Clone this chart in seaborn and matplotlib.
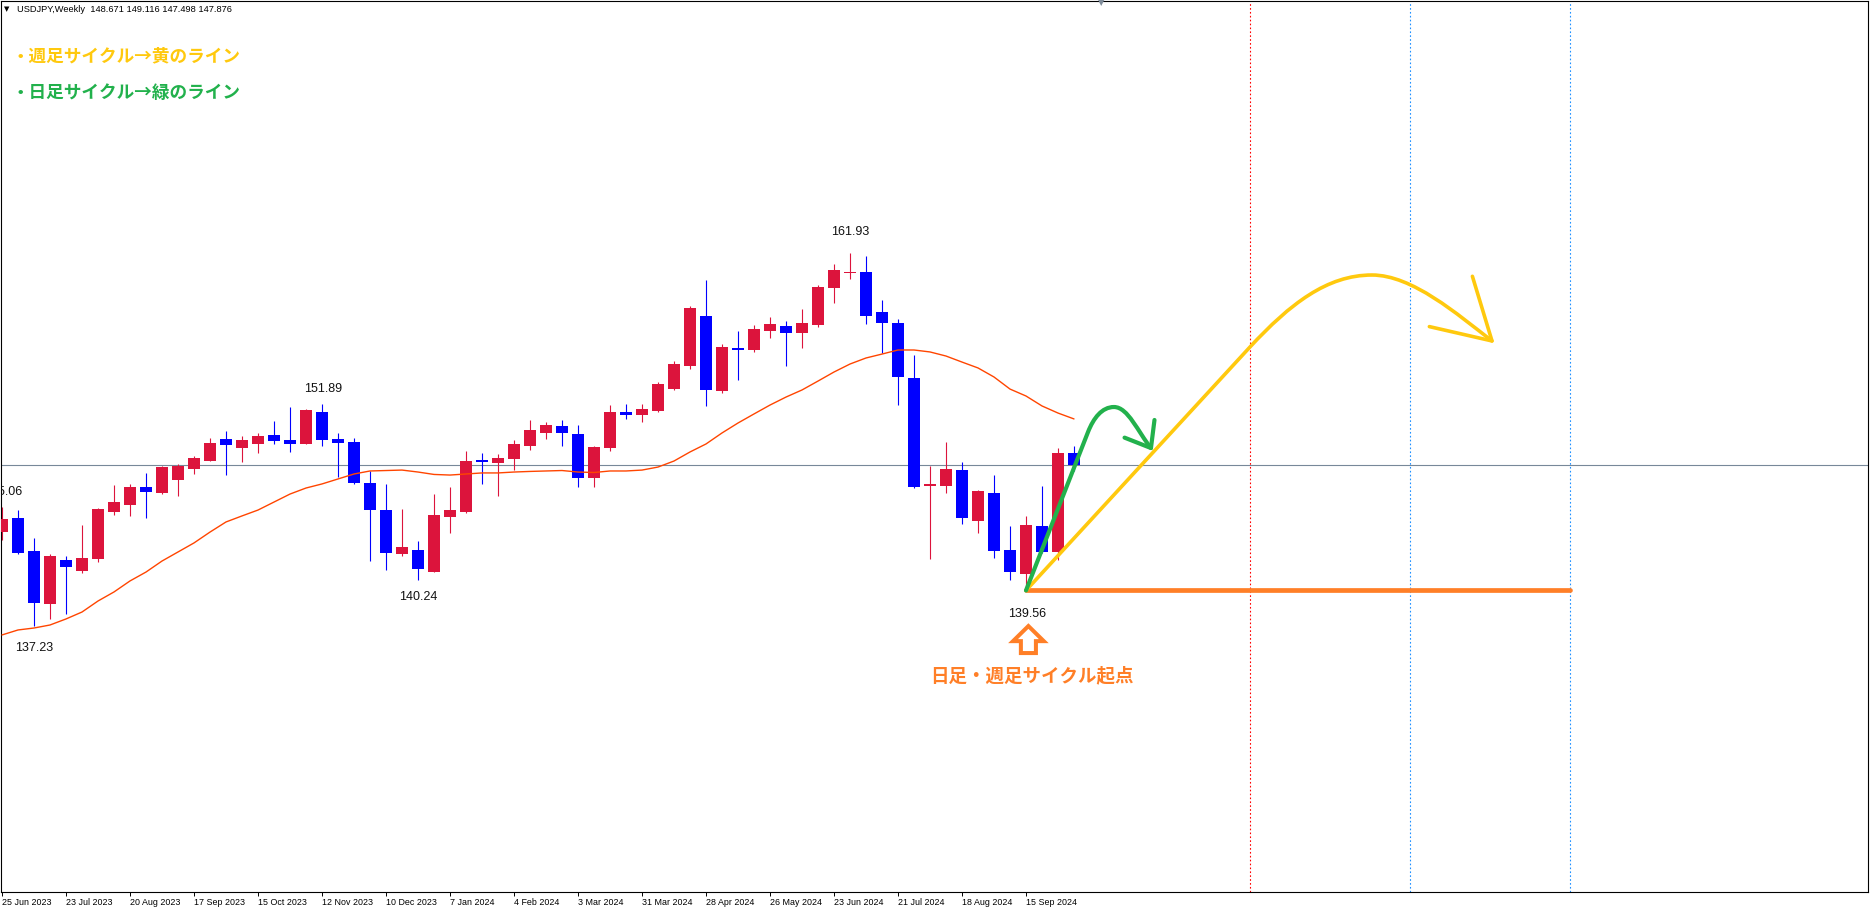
import numpy as np
import matplotlib
matplotlib.use("Agg")
import matplotlib.pyplot as plt
import seaborn as sns
from matplotlib.path import Path
from matplotlib.patches import PathPatch, FancyArrow

# ---------------- data (weekly USDJPY, week index 0 = 25 Jun 2023) ----------------
tick_labels = ["25 Jun 2023", "23 Jul 2023", "20 Aug 2023", "17 Sep 2023", "15 Oct 2023",
               "12 Nov 2023", "10 Dec 2023", "7 Jan 2024", "4 Feb 2024", "3 Mar 2024",
               "31 Mar 2024", "28 Apr 2024", "26 May 2024", "23 Jun 2024", "21 Jul 2024",
               "18 Aug 2024", "15 Sep 2024"]

opens = [143.45, 144.38, 142.18, 138.66, 141.58, 140.85, 141.64, 144.78, 145.23, 146.42,
         146.04, 146.88, 147.61, 148.14, 149.60, 149.00, 149.29, 149.87, 149.53, 149.29,
         151.39, 149.60, 149.40, 146.70, 144.91, 142.00, 142.24, 140.80, 144.45, 144.78,
         148.21, 148.03, 148.27, 149.14, 150.02, 150.46, 149.93, 147.04, 149.02, 151.37,
         151.21, 151.48, 152.93, 154.44, 157.75, 152.78, 155.60, 155.50, 156.76, 157.09,
         156.63, 157.16, 159.63, 160.61, 160.67, 158.02, 157.29, 153.64, 146.50, 146.50,
         147.54, 144.18, 146.02, 142.24, 140.67, 143.83, 142.13, 148.671]
highs = [145.06, 144.89, 143.06, 141.99, 141.84, 143.90, 145.02, 146.55, 146.62, 147.35,
         147.83, 147.96, 148.47, 149.67, 150.13, 149.80, 150.02, 150.79, 151.74, 151.59,
         151.89, 150.00, 149.65, 147.46, 146.62, 144.98, 142.84, 145.95, 146.41, 148.82,
         148.70, 148.60, 149.53, 150.86, 150.73, 150.86, 150.53, 149.14, 151.85, 151.92,
         151.92, 153.38, 154.77, 158.42, 160.14, 155.92, 156.76, 157.16, 157.71, 157.42,
         158.22, 159.81, 161.20, 161.93, 161.73, 158.81, 157.55, 155.17, 147.83, 149.37,
         148.08, 146.22, 147.21, 143.83, 144.50, 146.48, 149.00, 149.116]
lows = [142.90, 142.00, 137.23, 137.67, 138.00, 140.70, 141.47, 144.56, 144.50, 144.38,
        145.97, 145.82, 147.28, 148.14, 147.21, 148.10, 148.69, 149.29, 148.76, 149.29,
        149.16, 147.10, 146.64, 141.53, 140.91, 141.86, 140.24, 140.80, 143.39, 144.70,
        146.62, 145.82, 147.54, 148.87, 149.62, 149.14, 146.44, 146.44, 148.80, 150.95,
        150.75, 151.40, 152.87, 154.26, 151.81, 152.67, 153.51, 155.39, 156.31, 154.44,
        155.65, 157.04, 158.63, 160.23, 157.22, 155.30, 151.85, 146.35, 141.66, 146.04,
        143.98, 143.39, 141.73, 140.27, 139.56, 142.05, 141.60, 147.498]
closes = [144.28, 142.06, 138.75, 141.84, 141.14, 141.71, 144.96, 145.42, 146.42, 146.11,
          147.74, 147.81, 148.34, 149.35, 149.22, 149.53, 149.80, 149.49, 149.29, 151.52,
          149.55, 149.35, 146.70, 144.91, 142.06, 142.46, 141.00, 144.56, 144.90, 148.16,
          148.10, 148.34, 149.27, 150.20, 150.53, 150.02, 147.04, 149.05, 151.37, 151.21,
          151.59, 153.25, 154.57, 158.28, 152.85, 155.70, 155.50, 156.89, 157.22, 156.63,
          157.29, 159.67, 160.80, 160.66, 157.75, 157.29, 153.73, 146.42, 146.63, 147.61,
          144.38, 146.15, 142.19, 140.80, 143.90, 142.13, 148.67, 147.876]
moving_avg = [136.61, 136.94, 137.07, 137.27, 137.67, 138.13, 138.86, 139.46, 140.19, 140.78,
              141.51, 142.11, 142.71, 143.43, 144.10, 144.50, 144.89, 145.42, 145.95, 146.35,
              146.62, 146.95, 147.28, 147.48, 147.51, 147.54, 147.41, 147.25, 147.21, 147.28,
              147.35, 147.35, 147.41, 147.45, 147.48, 147.51, 147.41, 147.38, 147.48, 147.48,
              147.54, 147.74, 148.14, 148.74, 149.27, 150.00, 150.66, 151.26, 151.85, 152.38,
              152.85, 153.44, 154.04, 154.57, 154.97, 155.23, 155.50, 155.50, 155.37, 155.10,
              154.70, 154.31, 153.71, 152.91, 152.45, 151.79, 151.32, 150.93]

# price labels: (text, week index, price position)
price_labels = [("145.06", 0.1, 146.11), ("137.23", 2.02, 135.72), ("151.89", 20.04, 152.89),
                ("140.24", 26.02, 139.11), ("161.93", 53.04, 163.30), ("139.56", 64.04, 137.98)]

start_week, start_price = 64, 139.56
future_lines = [(78, "#FF0000"), (88, "#1E90FF"), (98, "#1E90FF")]

W, H = 1870, 908
CJK = ["Noto Sans CJK JP", "DejaVu Sans"]

sns.set_theme(style="white")
plt.rcParams["font.family"] = ["Liberation Sans", "DejaVu Sans"]

fig = plt.figure(figsize=(W / 100, H / 100), dpi=100)
fig.patch.set_facecolor("white")
ax = fig.add_axes([1 / W, 16 / H, 1867 / W, 891 / H])
ax.set_facecolor("white")

idx = np.arange(len(opens))
o = np.array(opens); c = np.array(closes); hi = np.array(highs); lo = np.array(lows)
up = c >= o
cols = np.where(up, "#DC143C", "#0000FF")

# reference lines
ax.axhline(c[-1], color="#778899", lw=0.8, zorder=1)
for xv, col in future_lines:
    ax.axvline(xv, color=col, lw=0.8, ls=(0, (1.5, 2.0)), zorder=1)

# candles
ax.vlines(idx, lo, hi, colors=cols, linewidth=0.8, zorder=2)
body_bottom = np.minimum(o, c)
body_h = np.maximum(np.abs(c - o), 0.07)
ax.bar(idx, body_h, bottom=body_bottom, width=0.69, color=cols, linewidth=0, zorder=3)

# moving average
sns.lineplot(x=idx, y=moving_avg, color="#FF4500", linewidth=1.0, ax=ax, zorder=4)

# orange base line
ax.plot([start_week, 98], [start_price, start_price], color="#FF7F27", lw=3.4,
        solid_capstyle="round", zorder=6)

# yellow (weekly cycle) hand-drawn curve
yellow = "#FFC90E"
yv = [(start_week, start_price), (78, 155.70), (80.5, 158.55), (82.81, 160.47), (85.625, 160.47),
      (88.125, 160.47), (90.94, 157.89), (93.125, 156.10)]
yc = [Path.MOVETO, Path.LINETO, Path.CURVE4, Path.CURVE4, Path.CURVE4, Path.CURVE4, Path.CURVE4, Path.CURVE4]
ax.add_patch(PathPatch(Path(yv, yc), fill=False, edgecolor=yellow, lw=2.6, capstyle="round",
                       joinstyle="round", zorder=7))
ax.plot([91.9, 93.125, 89.21], [160.385, 156.10, 157.05], color=yellow, lw=2.6,
        solid_capstyle="round", solid_joinstyle="round", zorder=7)

# green (daily cycle) hand-drawn curve
green = "#22B14C"
gv = [(start_week, start_price), (67.875, 150.06), (68.22, 150.99), (68.75, 151.72), (69.5, 151.72),
      (70.375, 151.72), (71.0, 150.06), (71.81, 149.0)]
gc = [Path.MOVETO, Path.LINETO, Path.CURVE4, Path.CURVE4, Path.CURVE4, Path.CURVE4, Path.CURVE4, Path.CURVE4]
ax.add_patch(PathPatch(Path(gv, gc), fill=False, edgecolor=green, lw=3.0, capstyle="round",
                       joinstyle="round", zorder=8))
ax.plot([72.03, 71.81, 70.16], [150.86, 149.0, 149.69], color=green, lw=3.0,
        solid_capstyle="round", solid_joinstyle="round", zorder=8)

# hollow up arrow
ax.add_patch(FancyArrow(64.15, 135.41, 0, 1.79, width=0.94, head_width=1.92, head_length=1.0,
                        length_includes_head=True, facecolor="white", edgecolor="#FF7F27",
                        linewidth=2.9, joinstyle="miter", zorder=6))

# price labels
for txt, xi, yp in price_labels:
    ax.text(xi, yp, txt, ha="center", va="center", fontsize=9, color="#111111",
            family=["Liberation Sans"], clip_on=True, zorder=9)

ax.set_xlim(-0.0625, 116.625)
ax.set_ylim(119.57, 178.635)
ax.set_xticks(np.arange(0, 68, 4))
ax.set_xticklabels(tick_labels)
for lbl in ax.get_xticklabels():
    lbl.set_ha("left")
ax.set_yticks([])
ax.set_xlabel("")
ax.set_ylabel("")
ax.tick_params(axis="x", direction="out", length=3, width=0.7, color="black", pad=1.5,
               labelsize=6.4, labelcolor="black", bottom=True)
for sp in ax.spines.values():
    sp.set_visible(True)
    sp.set_color("black")
    sp.set_linewidth(0.8)

# header
fig.text(7 / W, 1 - 9 / H, "▼", fontsize=5, color="black", ha="center", va="center",
         family=["DejaVu Sans"])
fig.text(17 / W, 1 - 9 / H, "USDJPY,Weekly  148.671 149.116 147.498 147.876", fontsize=6.7,
         color="black", ha="left", va="center", family=["Liberation Sans"])
fig.text(1101 / W, 1 - 3 / H, "▼", fontsize=6, color="#7f8c9a", ha="center", va="center",
         family=["DejaVu Sans"])

# legend-like notes
fig.text(12 / W, 1 - 56.7 / H, "・週足サイクル→黄のライン", color=yellow, fontsize=12.7,
         fontweight="bold", family=CJK, ha="left", va="center")
fig.text(12 / W, 1 - 93 / H, "・日足サイクル→緑のライン", color=green, fontsize=12.7,
         fontweight="bold", family=CJK, ha="left", va="center")
fig.text(1032 / W, 1 - 676 / H, "日足・週足サイクル起点", color="#FF7F27", fontsize=13.3,
         fontweight="bold", family=CJK, ha="center", va="center")

fig.savefig("out.png", dpi=100, facecolor="white")
